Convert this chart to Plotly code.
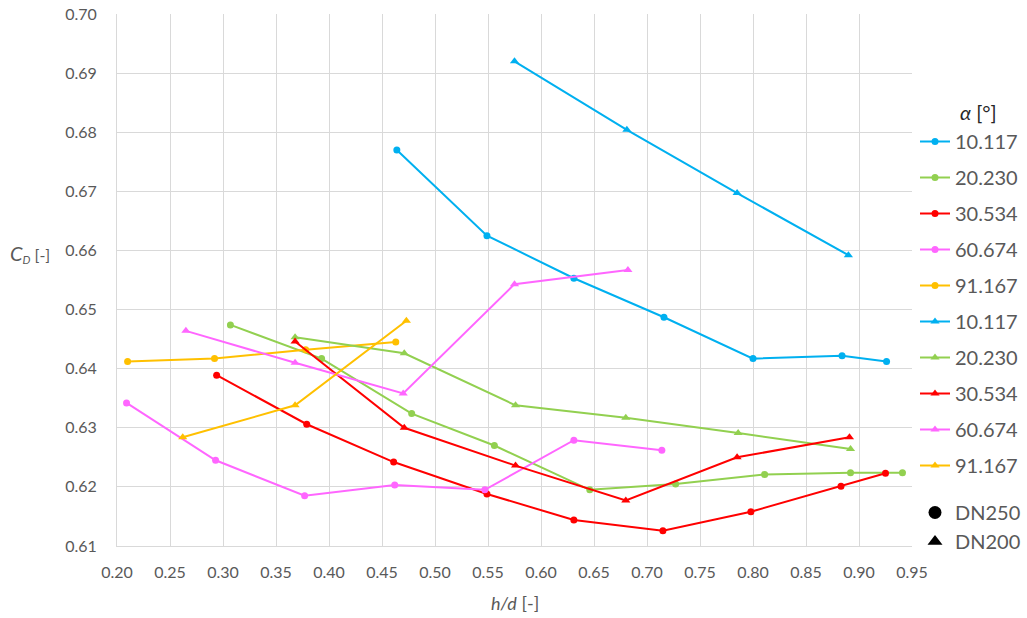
import plotly.graph_objects as go

# Discharge coefficient C_D versus relative opening h/d for several gate angles
angles = ["10.117", "20.230", "30.534", "60.674", "91.167"]
colors = ["#00b0f0", "#92d050", "#ff0000", "#ff66ff", "#ffc000"]

# DN250 pipe (circle markers)
dn250_x = {
    "10.117": [0.464, 0.549, 0.631, 0.716, 0.800, 0.884, 0.926],
    "20.230": [0.307, 0.393, 0.478, 0.556, 0.646, 0.727, 0.811, 0.892, 0.941],
    "30.534": [0.294, 0.379, 0.461, 0.549, 0.631, 0.715, 0.798, 0.883, 0.925],
    "60.674": [0.209, 0.293, 0.377, 0.462, 0.547, 0.631, 0.714],
    "91.167": [0.210, 0.292, 0.378, 0.463],
}
dn250_y = {
    "10.117": [0.6770, 0.6625, 0.6553, 0.6487, 0.6417, 0.6422, 0.6412],
    "20.230": [0.6474, 0.6417, 0.6324, 0.6270, 0.6195, 0.6205, 0.6221, 0.6224, 0.6224],
    "30.534": [0.6389, 0.6306, 0.6242, 0.6188, 0.6144, 0.6126, 0.6158, 0.6201, 0.6223],
    "60.674": [0.6342, 0.6245, 0.6185, 0.6203, 0.6195, 0.6279, 0.6262],
    "91.167": [0.6412, 0.6417, 0.6432, 0.6445],
}

# DN200 pipe (triangle markers)
dn200_x = {
    "10.117": [0.575, 0.681, 0.785, 0.890],
    "20.230": [0.368, 0.471, 0.576, 0.680, 0.786, 0.892],
    "30.534": [0.368, 0.471, 0.576, 0.680, 0.785, 0.891],
    "60.674": [0.265, 0.368, 0.470, 0.575, 0.682],
    "91.167": [0.262, 0.368, 0.473],
}
dn200_y = {
    "10.117": [0.6920, 0.6804, 0.6697, 0.6592],
    "20.230": [0.6453, 0.6426, 0.6338, 0.6317, 0.6291, 0.6264],
    "30.534": [0.6446, 0.6300, 0.6236, 0.6177, 0.6250, 0.6284],
    "60.674": [0.6464, 0.6410, 0.6358, 0.6543, 0.6567],
    "91.167": [0.6284, 0.6338, 0.6481],
}

x_ticks = [round(0.20 + 0.05 * i, 2) for i in range(16)]
y_ticks = [round(0.61 + 0.01 * i, 2) for i in range(10)]

FONT = "Lato"
GREY = "#595959"

# plot area in pixels (figure is 1027 x 618)
plot_l, plot_r, plot_t, plot_b = 117, 912, 14, 546
pw, ph = plot_r - plot_l, plot_b - plot_t


def px_to_paper(px, py):
    return (px - plot_l) / pw, (plot_b - py) / ph


fig = go.Figure()

for i, (a, c) in enumerate(zip(angles, colors)):
    fig.add_trace(go.Scatter(
        x=dn250_x[a], y=dn250_y[a], name=a, mode="lines+markers",
        line=dict(color=c, width=2), marker=dict(symbol="circle", size=7, color=c),
        legendgroup=f"g250_{i}", legend="legend",
    ))
for i, (a, c) in enumerate(zip(angles, colors)):
    fig.add_trace(go.Scatter(
        x=dn200_x[a], y=dn200_y[a], name=a, mode="lines+markers",
        line=dict(color=c, width=2), marker=dict(symbol="triangle-up", size=8, color=c),
        legendgroup=f"g200_{i}", legend="legend",
    ))

# Pipe size key
fig.add_trace(go.Scatter(x=[None], y=[None], name="DN250", mode="markers",
                         marker=dict(symbol="circle", size=13, color="black"),
                         legend="legend2"))
fig.add_trace(go.Scatter(x=[None], y=[None], name="DN200", mode="markers",
                         marker=dict(symbol="triangle-up", size=13, color="black"),
                         legend="legend2"))

axis_common = dict(
    showgrid=True, gridcolor="#d9d9d9", gridwidth=1,
    showline=True, linecolor="#d9d9d9", linewidth=1,
    zeroline=False, ticks="",
    tickfont=dict(family=FONT, size=16, color=GREY),
)

fig.update_xaxes(range=[0.20, 0.95], tickvals=x_ticks, ticklabelstandoff=12,
                 ticktext=[f"{v:.2f}" for v in x_ticks], **axis_common)
fig.update_yaxes(range=[0.61, 0.70], tickvals=y_ticks, ticklabelstandoff=16,
                 ticktext=[f"{v:.2f}" for v in y_ticks], **axis_common)

lx, _ = px_to_paper(915, 0)
_, ly1 = px_to_paper(0, 122)
_, ly2 = px_to_paper(0, 493)
ax, ay = px_to_paper(978, 112)
cx, cy = px_to_paper(30, 253)
hx, hy = px_to_paper(515, 603)

fig.update_layout(
    width=1027, height=618,
    margin=dict(l=plot_l, r=1027 - plot_r, t=plot_t, b=618 - plot_b, autoexpand=False),
    paper_bgcolor="white", plot_bgcolor="white",
    font=dict(family=FONT, color=GREY),
    showlegend=True,
    legend=dict(
        x=lx, xanchor="left", y=ly1, yanchor="top",
        traceorder="grouped", tracegroupgap=7,
        font=dict(family=FONT, size=20, color=GREY),
        bgcolor="rgba(0,0,0,0)", itemwidth=30,
    ),
    legend2=dict(
        x=lx, xanchor="left", y=ly2, yanchor="top",
        font=dict(family=FONT, size=20, color=GREY),
        bgcolor="rgba(0,0,0,0)", itemwidth=30,
    ),
    annotations=[
        dict(text="<i>α</i> [°]", x=ax, y=ay, xref="paper", yref="paper",
             xanchor="center", yanchor="middle", showarrow=False,
             font=dict(family=FONT, size=20, color="#262626")),
        dict(text="<span style='font-size:20px'><i>C</i></span><sub><i>D</i></sub> [-]",
             x=cx, y=cy, xref="paper", yref="paper",
             xanchor="center", yanchor="middle", showarrow=False,
             font=dict(family=FONT, size=16, color=GREY)),
        dict(text="<i>h/d</i> [-]", x=hx, y=hy, xref="paper", yref="paper",
             xanchor="center", yanchor="middle", showarrow=False,
             font=dict(family=FONT, size=18, color=GREY)),
    ],
)

fig.write_html("out.html")
